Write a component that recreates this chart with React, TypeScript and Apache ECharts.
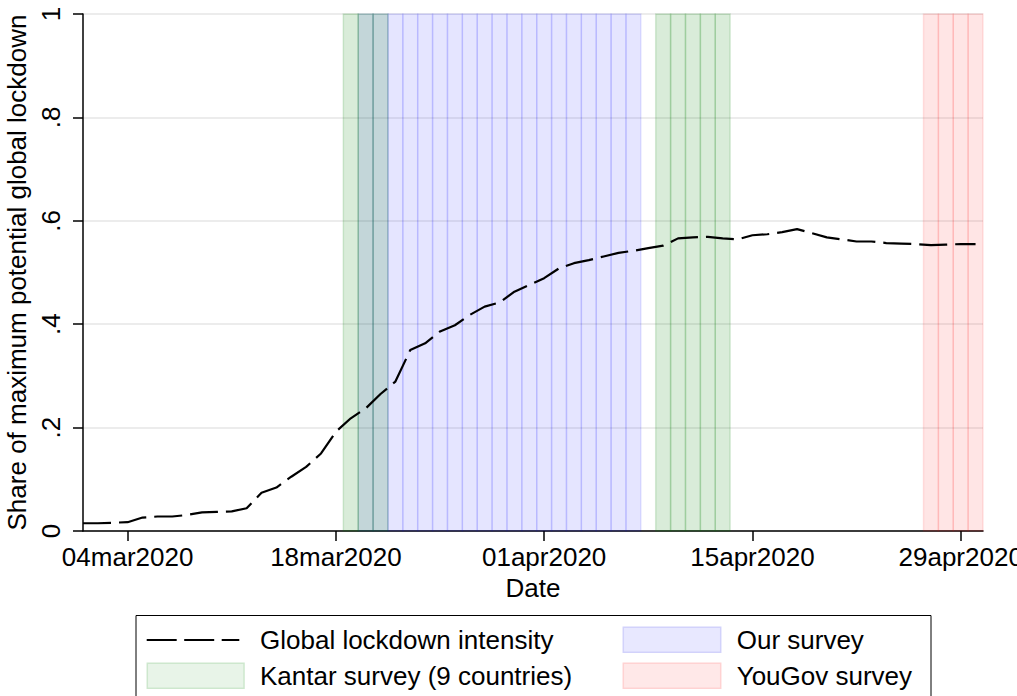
import React, { useEffect, useRef } from "react";
import * as echarts from "echarts";

// Day index 0 = 01mar2020 ... 60 = 30apr2020
const startDate = "2020-03-01";
const lockdownIntensity = [
  0.015, 0.015, 0.016, 0.017, 0.026, 0.028, 0.028, 0.031, 0.036, 0.037,
  0.038, 0.044, 0.074, 0.084, 0.105, 0.124, 0.150, 0.192, 0.218, 0.237,
  0.265, 0.289, 0.350, 0.363, 0.386, 0.398, 0.418, 0.434, 0.442, 0.463,
  0.476, 0.489, 0.508, 0.518, 0.524, 0.531, 0.538, 0.542, 0.547, 0.552,
  0.566, 0.568, 0.569, 0.566, 0.564, 0.572, 0.574, 0.578, 0.584, 0.576,
  0.568, 0.564, 0.560, 0.560, 0.557, 0.556, 0.555, 0.553, 0.554, 0.555,
  0.555,
];

const ourSurveyDays = [19, 20, 21, 22, 23, 24, 25, 26, 27, 28, 29, 30, 31, 32, 33, 34, 35, 36, 37];
const kantarDays = [18, 19, 20, 39, 40, 41, 42, 43];
const yougovDays = [57, 58, 59, 60];

const xTickDays = [3, 17, 31, 45, 59];
const xTickLabels = ["04mar2020", "18mar2020", "01apr2020", "15apr2020", "29apr2020"];
const yTickLabels = ["0", ".2", ".4", ".6", ".8", "1"];

const FONT = "'Liberation Sans', Arial, Helvetica, sans-serif";

function bandSeries(name: string, days: number[], fill: string, stroke: string, z: number) {
  return {
    type: "custom",
    name,
    z,
    silent: true,
    data: days.map((d) => [d, 1]),
    encode: { x: 0, y: 1 },
    renderItem: (params: any, api: any) => {
      const d = api.value(0);
      const top = api.value(1);
      const p0 = api.coord([d - 0.5, top]);
      const p1 = api.coord([d + 0.5, 0]);
      return {
        type: "rect",
        shape: { x: p0[0], y: p0[1], width: p1[0] - p0[0], height: p1[1] - p0[1] },
        style: { fill, stroke, lineWidth: 1.5 },
      };
    },
  };
}

export default function App() {
  const ref = useRef<HTMLDivElement>(null);
  useEffect(() => {
    if (!ref.current) return;
    const chart = echarts.init(ref.current, null, { renderer: "svg" });
    const option: any = {
      animation: false,
      backgroundColor: "#ffffff",
      textStyle: { fontFamily: FONT },
      grid: { left: 83, right: 34, top: 14, bottom: 165, containLabel: false, outerBoundsMode: "none" },
      xAxis: {
        type: "value",
        min: 0,
        max: 60.5,
        name: "Date",
        nameLocation: "middle",
        nameGap: 44,
        nameTextStyle: { color: "#000", fontSize: 26, fontFamily: FONT },
        axisLine: { show: true, lineStyle: { color: "#000", width: 1.5 } },
        axisTick: { show: true, length: 10, lineStyle: { color: "#000", width: 1.5 }, customValues: xTickDays },
        axisLabel: {
          color: "#000",
          fontSize: 26,
          fontFamily: FONT,
          margin: 13,
          customValues: xTickDays,
          formatter: (v: number) => {
            const i = xTickDays.indexOf(Math.round(v));
            return i >= 0 ? xTickLabels[i] : "";
          },
        },
        splitLine: { show: false },
      },
      yAxis: {
        type: "value",
        min: 0,
        max: 1,
        interval: 0.2,
        name: "Share of maximum potential global lockdown",
        nameLocation: "middle",
        nameGap: 51,
        nameTextStyle: { color: "#000", fontSize: 26, fontFamily: FONT },
        axisLine: { show: true, lineStyle: { color: "#000", width: 1.5 } },
        axisTick: { show: true, length: 10, lineStyle: { color: "#000", width: 1.5 } },
        axisLabel: {
          color: "#000",
          fontSize: 26,
          fontFamily: FONT,
          rotate: 90,
          margin: 19,
          formatter: (v: number) => yTickLabels[Math.round(v / 0.2)] ?? "",
        },
        splitLine: { show: true, lineStyle: { color: "#e6e6e6", width: 1.5 } },
      },
      series: [
        bandSeries("Our survey", ourSurveyDays, "rgba(0,0,255,0.10)", "rgba(0,0,255,0.10)", 1),
        bandSeries("Kantar survey (9 countries)", kantarDays, "rgba(0,128,0,0.15)", "rgba(0,128,0,0.15)", 2),
        bandSeries("YouGov survey", yougovDays, "rgba(255,0,0,0.10)", "rgba(255,0,0,0.10)", 3),
        {
          type: "line",
          name: "Global lockdown intensity",
          z: 5,
          showSymbol: false,
          silent: true,
          data: lockdownIntensity.map((v, i) => [i, v]),
          lineStyle: { color: "#000", width: 2.2, type: [28, 8] },
        },
      ],
      graphic: [
        {
          type: "rect",
          shape: { x: 136, y: 615.5, width: 795, height: 100 },
          style: { fill: "#fff", stroke: "#000", lineWidth: 1 },
        },
        {
          type: "line",
          shape: { x1: 146.7, y1: 640, x2: 239.3, y2: 640 },
          style: { stroke: "#000", lineWidth: 2.2, lineDash: [30, 7.5] },
        },
        {
          type: "text",
          x: 260,
          y: 640,
          style: { text: "Global lockdown intensity", fill: "#000", font: `26px ${FONT}`, verticalAlign: "middle", align: "left" },
        },
        {
          type: "rect",
          shape: { x: 147.3, y: 663.3, width: 96.7, height: 25 },
          style: { fill: "#e8f4e8", stroke: "#cde7cd", lineWidth: 1.5 },
        },
        {
          type: "text",
          x: 260,
          y: 676,
          style: { text: "Kantar survey (9 countries)", fill: "#000", font: `26px ${FONT}`, verticalAlign: "middle", align: "left" },
        },
        {
          type: "rect",
          shape: { x: 623.3, y: 627.3, width: 97.4, height: 25 },
          style: { fill: "#e8e8ff", stroke: "#d2d2fb", lineWidth: 1.5 },
        },
        {
          type: "text",
          x: 736.7,
          y: 640,
          style: { text: "Our survey", fill: "#000", font: `26px ${FONT}`, verticalAlign: "middle", align: "left" },
        },
        {
          type: "rect",
          shape: { x: 623.3, y: 663.3, width: 97.4, height: 25 },
          style: { fill: "#ffe8e8", stroke: "#ffd2d2", lineWidth: 1.5 },
        },
        {
          type: "text",
          x: 736.7,
          y: 676,
          style: { text: "YouGov survey", fill: "#000", font: `26px ${FONT}`, verticalAlign: "middle", align: "left" },
        },
      ],
    };
    chart.setOption(option);
    return () => chart.dispose();
  }, []);
  return (
    <div
      ref={ref}
      data-start={startDate}
      style={{ position: "absolute", left: 0, top: 0, width: 1017, height: 696, overflow: "hidden" }}
    />
  );
}
